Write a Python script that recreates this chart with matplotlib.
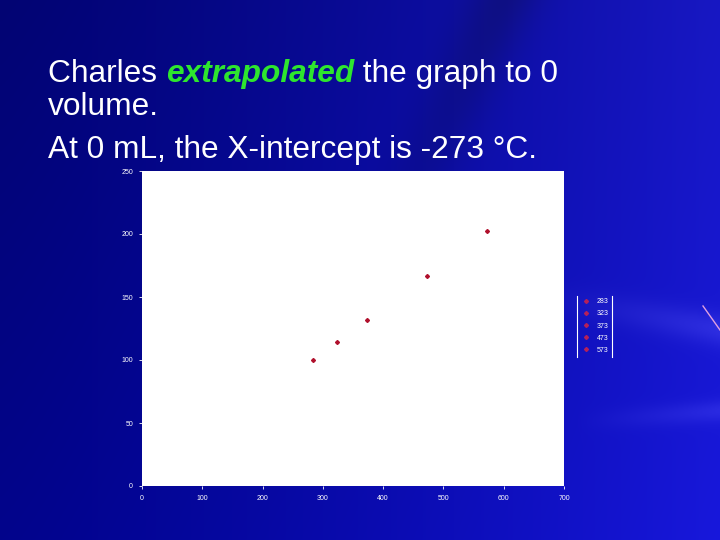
import numpy as np
import matplotlib
matplotlib.use("Agg")
import matplotlib.pyplot as plt
from matplotlib.lines import Line2D

# Data
temps_k = [283, 323, 373, 473, 573]
volumes = [100, 114, 132, 167, 202]
legend_labels = ["283", "323", "373", "473", "573"]
x_ticks = [0, 100, 200, 300, 400, 500, 600, 700]
y_ticks = [0, 50, 100, 150, 200, 250]

plt.rcParams['font.family'] = ['Liberation Sans', 'DejaVu Sans']

W, H = 720, 540
fig = plt.figure(figsize=(7.2, 5.4), dpi=100)

# Background gradient
bg = fig.add_axes([0, 0, 1, 1], zorder=-10)
yy, xx = np.mgrid[0:H, 0:W]
xn = xx / W
yn = yy / H
r = 2 + 22 * xn**1.5
g = 4 + 20 * xn**1.5
b = 115 + 80 * xn**1.2 + 25 * yn
# darker streak bands (top-middle)
streak = np.exp(-((xn - 0.35 - 0.35 * (1 - yn)) / 0.05) ** 2) * (1 - yn) ** 2
b -= 35 * streak
# lighter streaks on right
light = np.exp(-((yn - 0.56 - 0.25 * (xn - 0.8)) / 0.03) ** 2) * np.clip((xn - 0.75) / 0.25, 0, 1)
light2 = np.exp(-((yn - 0.78 + 0.1 * (xn - 0.8)) / 0.02) ** 2) * np.clip((xn - 0.8) / 0.2, 0, 1)
r += 22 * light + 18 * light2
g += 22 * light + 18 * light2
b += 15 * light + 12 * light2
img = np.clip(np.dstack([r, g, b]) / 255.0, 0, 1)
bg.imshow(img, aspect='auto', extent=[0, 1, 0, 1], origin='upper')
bg.set_axis_off()

# Title text
renderer = fig.canvas.get_renderer()
fs = 22.8
x0 = 48 / W
y1 = 1 - 82 / H
parts = [("Charles ", "white", "normal", "normal"),
         ("extrapolated", "#2ee62e", "bold", "italic"),
         (" the graph to 0", "white", "normal", "normal")]
x = x0
for txt, col, wt, st in parts:
    t = fig.text(x, y1, txt, color=col, fontsize=fs, fontweight=wt, fontstyle=st, va='baseline', ha='left')
    bb = t.get_window_extent(renderer=renderer)
    x += bb.width / W
fig.text(x0, 1 - 115 / H, "volume.", color='white', fontsize=fs, va='baseline')
fig.text(x0, 1 - 158 / H, "At 0 mL, the X-intercept is -273 \u00b0C.", color='white', fontsize=fs, va='baseline')

# Chart
ax = fig.add_axes([142 / W, 1 - 486 / H, (564 - 142) / W, (486 - 171) / H])
ax.set_facecolor('white')
for xv, yv, lab in zip(temps_k, volumes, legend_labels):
    ax.plot([xv], [yv], marker='D', markersize=2.0, color='#b0102c', linestyle='none', label=lab)
ax.set_xlim(0, 700)
ax.set_ylim(0, 250)
ax.set_xticks(x_ticks)
ax.set_yticks(y_ticks)
ax.tick_params(colors='white', labelsize=5, length=2.5, width=0.6, pad=4)
for s in ax.spines.values():
    s.set_visible(False)

leg = fig.legend(loc='center left', bbox_to_anchor=(578 / W, 1 - 326 / H), frameon=False,
                 fontsize=5, labelcolor='white', handlelength=0.8, handletextpad=1.2,
                 labelspacing=0.75, borderpad=0.2)
for h in leg.legend_handles:
    h.set_markersize(2.0)
    h.set_color('#b4205a')

# legend side bars
fig.add_artist(Line2D([577 / W, 577 / W], [1 - 296 / H, 1 - 357 / H], color='white', lw=0.8))
fig.add_artist(Line2D([612 / W, 612 / W], [1 - 296 / H, 1 - 357 / H], color='white', lw=0.8))
# decorative diagonal line at right edge
fig.add_artist(Line2D([703 / W, 720 / W], [1 - 306 / H, 1 - 330 / H], color='#e0a0e0', lw=1))

fig.savefig("out.png", dpi=100)
